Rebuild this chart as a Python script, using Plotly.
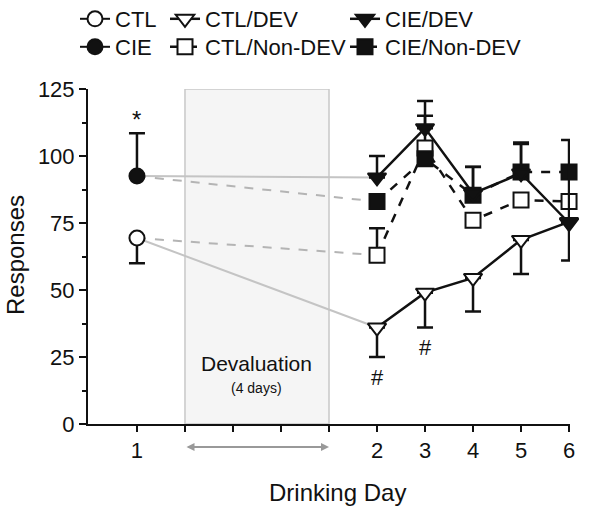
import plotly.graph_objects as go

# ---------------- data ----------------
day_labels = ["1", "2", "3", "4", "5", "6"]
post_days = [2, 3, 4, 5, 6]

ctl_day1 = 69.4
ctl_day1_err_minus = 9.4
cie_day1 = 92.5
cie_day1_err_plus = 16.0

ctl_dev = [36.0, 49.0, 54.5, 68.7, 75.4]
ctl_dev_err_minus = [11.0, 13.0, 12.5, 12.7, 14.4]

cie_dev = [92.0, 110.4, 86.0, 93.5, 75.0]
cie_dev_err_plus = [8.0, 10.1, 10.0, 11.5, 31.0]

ctl_nondev = [63.0, 103.0, 76.0, 83.6, 83.0]
ctl_nondev_err_plus = [10.0, 12.0, 0.0, 0.0, 0.0]

cie_nondev = [83.0, 99.0, 85.4, 94.0, 94.0]
cie_nondev_err_plus = [0.0, 0.0, 10.5, 10.5, 0.0]

# axis positions: day 1 at 0, then a 4-day devaluation gap, days 2..6 at 5..9
def pos(day):
    return 0 if day == 1 else day + 3

x_day1 = [pos(1)]
x_post = [pos(d) for d in post_days]
tick_positions = list(range(0, 10))
tick_text = ["1", "", "", "", ""] + day_labels[1:]

FONT = "Arial, Liberation Sans, Helvetica, sans-serif"
BLACK = "#111111"

fig = go.Figure()

# gray connectors from day 1 to day 2
def connector(y0, y1, dash, color):
    fig.add_trace(go.Scatter(
        x=[pos(1), pos(2)], y=[y0, y1], mode="lines",
        line=dict(color=color, width=2, dash=dash),
        showlegend=False, hoverinfo="skip"))

connector(cie_day1, cie_dev[0], "solid", "#c4c4c4")
connector(cie_day1, cie_nondev[0], "dash", "#b4b4b4")
connector(ctl_day1, ctl_dev[0], "solid", "#c4c4c4")
connector(ctl_day1, ctl_nondev[0], "dash", "#b4b4b4")

def err(plus, minus):
    return dict(type="data", symmetric=False, array=plus, arrayminus=minus,
                color=BLACK, thickness=2.5, width=8)

# Day 1 groups
fig.add_trace(go.Scatter(
    x=x_day1, y=[ctl_day1], name="CTL", mode="lines+markers",
    line=dict(color=BLACK, width=2),
    marker=dict(symbol="circle", size=15, color="white", line=dict(color=BLACK, width=2)),
    error_y=err([0], [ctl_day1_err_minus]), legend="legend", cliponaxis=False))
fig.add_trace(go.Scatter(
    x=x_day1, y=[cie_day1], name="CIE", mode="lines+markers",
    line=dict(color=BLACK, width=2),
    marker=dict(symbol="circle", size=15, color=BLACK, line=dict(color=BLACK, width=2)),
    error_y=err([cie_day1_err_plus], [0]), legend="legend2", cliponaxis=False))

zeros = [0.0] * len(post_days)

fig.add_trace(go.Scatter(
    x=x_post, y=ctl_dev, name="CTL/DEV", mode="lines+markers",
    line=dict(color=BLACK, width=2.5),
    marker=dict(symbol="triangle-down", size=16, color="white", line=dict(color=BLACK, width=2)),
    error_y=err(zeros, ctl_dev_err_minus), legend="legend3", cliponaxis=False))
fig.add_trace(go.Scatter(
    x=x_post, y=ctl_nondev, name="CTL/Non-DEV", mode="lines+markers",
    line=dict(color=BLACK, width=2.5, dash="dash"),
    marker=dict(symbol="square", size=15, color="white", line=dict(color=BLACK, width=2)),
    error_y=err(ctl_nondev_err_plus, zeros), legend="legend4", cliponaxis=False))
fig.add_trace(go.Scatter(
    x=x_post, y=cie_nondev, name="CIE/Non-DEV", mode="lines+markers",
    line=dict(color=BLACK, width=2.5, dash="dash"),
    marker=dict(symbol="square", size=15, color=BLACK, line=dict(color=BLACK, width=2)),
    error_y=err(cie_nondev_err_plus, zeros), legend="legend6", cliponaxis=False))
fig.add_trace(go.Scatter(
    x=x_post, y=cie_dev, name="CIE/DEV", mode="lines+markers",
    line=dict(color=BLACK, width=2.5),
    marker=dict(symbol="triangle-down", size=16, color=BLACK, line=dict(color=BLACK, width=2)),
    error_y=err(cie_dev_err_plus, zeros), legend="legend5", cliponaxis=False))

W, H = 601, 512

fig.add_shape(type="rect", xref="x", yref="y", x0=pos(1) + 1, x1=pos(2) - 1, y0=0, y1=125,
              fillcolor="#f5f5f5", line=dict(color="#c8c8c8", width=1.5), layer="below")

ann = []
ann.append(dict(text="Responses", xref="paper", yref="paper", x=15 / W, y=(H - 255) / H,
                xanchor="center", yanchor="middle",
                textangle=-90, showarrow=False, font=dict(size=24, color=BLACK, family=FONT)))
ann.append(dict(text="Drinking Day", xref="paper", yref="paper", x=338 / W, y=(H - 492) / H,
                xanchor="center", yanchor="middle",
                showarrow=False, font=dict(size=24, color=BLACK, family=FONT)))
ann.append(dict(text="*", xref="x", yref="y", x=pos(1), y=113.5, showarrow=False,
                font=dict(size=24, color=BLACK, family=FONT)))
ann.append(dict(text="#", xref="x", yref="y", x=pos(2), y=17.5, showarrow=False,
                font=dict(size=22, color=BLACK, family=FONT)))
ann.append(dict(text="#", xref="x", yref="y", x=pos(3), y=28.7, showarrow=False,
                font=dict(size=22, color=BLACK, family=FONT)))
ann.append(dict(text="Devaluation", xref="x", yref="y", x=2.5, y=22.4, showarrow=False,
                font=dict(size=21, color=BLACK, family=FONT)))
ann.append(dict(text="(4 days)", xref="x", yref="y", x=2.5, y=13.4, showarrow=False,
                font=dict(size=14, color=BLACK, family=FONT)))
ann.append(dict(text="", xref="x", yref="paper", x=4, y=(H - 447) / H,
                axref="x", ax=1, ayref="pixel", ay=0, showarrow=True,
                arrowhead=2, startarrowhead=2, arrowside="end+start",
                arrowsize=0.8, arrowwidth=2, arrowcolor="#999999"))

legend_common = dict(xanchor="left", yanchor="top", bgcolor="rgba(0,0,0,0)",
                     font=dict(size=22, color=BLACK, family=FONT),
                     itemwidth=30, tracegroupgap=0, orientation="v")

row1_top = 1 + 2 / H
row2_top = 1 - 26 / H

fig.update_layout(
    width=W, height=H,
    margin=dict(l=0, r=0, t=0, b=0, autoexpand=False),
    paper_bgcolor="white", plot_bgcolor="white",
    font=dict(family=FONT, color=BLACK),
    annotations=ann,
    legend=dict(x=75 / W, y=row1_top, **legend_common),
    legend2=dict(x=75 / W, y=row2_top, **legend_common),
    legend3=dict(x=165 / W, y=row1_top, **legend_common),
    legend4=dict(x=165 / W, y=row2_top, **legend_common),
    legend5=dict(x=345 / W, y=row1_top, **legend_common),
    legend6=dict(x=345 / W, y=row2_top, **legend_common),
    xaxis=dict(domain=[88 / W, 570 / W], range=[-1.02, 9.02],
               showline=True, linecolor=BLACK, linewidth=2,
               ticks="outside", ticklen=6, tickwidth=2, tickcolor=BLACK,
               tickvals=tick_positions, ticktext=tick_text,
               tickfont=dict(size=22, color=BLACK, family=FONT),
               showgrid=False, zeroline=False, automargin=False),
    yaxis=dict(domain=[88 / H, 423 / H], range=[0, 125],
               showline=True, linecolor=BLACK, linewidth=2,
               ticks="outside", ticklen=7, tickwidth=2, tickcolor=BLACK,
               tickvals=[0, 25, 50, 75, 100, 125],
               tickfont=dict(size=22, color=BLACK, family=FONT),
               minor=dict(tickvals=[12.5, 37.5, 62.5, 87.5, 112.5], ticks="outside",
                          ticklen=4, tickwidth=1.5, tickcolor=BLACK),
               showgrid=False, zeroline=False, automargin=False),
)

fig.write_html("out.html", config={"displayModeBar": False},
               post_script="document.body.style.margin='0px';")
